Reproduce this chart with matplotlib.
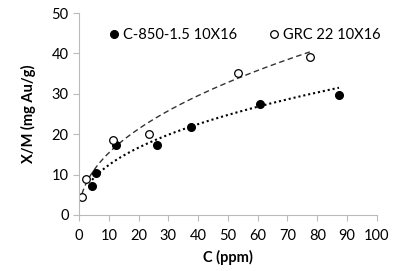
import numpy as np
import matplotlib
matplotlib.use("Agg")
import matplotlib.pyplot as plt

plt.rcParams['font.family'] = ['Lato', 'DejaVu Sans']

# C-850-1.5 10X16 (filled)
c850_x = [4.4, 5.8, 12.4, 26.2, 37.6, 60.7, 87.3]
c850_y = [7.2, 10.4, 17.3, 17.3, 21.8, 27.5, 29.7]
# GRC 22 10X16 (open)
grc_x = [1.0, 2.3, 11.3, 23.5, 53.4, 77.5]
grc_y = [4.5, 8.9, 18.5, 20.0, 35.1, 39.1]


def power_fit(x, y):
    b, loga = np.polyfit(np.log(x), np.log(y), 1)
    xs = np.linspace(min(x), max(x), 200)
    return xs, np.exp(loga) * xs ** b


fig = plt.figure(figsize=(3.95, 2.71), dpi=100)
ax = fig.add_axes([0.2, 0.207, 0.754, 0.745])

xs, ys = power_fit(c850_x, c850_y)
ax.plot(xs, ys, color='black', linestyle=(0, (1, 1.4)), linewidth=1.5)
xs, ys = power_fit(grc_x, grc_y)
ax.plot(xs, ys, color='#333333', linestyle=(0, (4, 2.5)), linewidth=1.0)

ax.plot(c850_x, c850_y, 'o', color='black', markersize=5.5, label='C-850-1.5 10X16')
ax.plot(grc_x, grc_y, 'o', markerfacecolor='white', markeredgecolor='black',
        markeredgewidth=0.9, markersize=5.5, label='GRC 22 10X16')

ax.set_xlim(0, 100)
ax.set_ylim(0, 50)
ax.set_xticks(np.arange(0, 101, 10))
ax.set_yticks(np.arange(0, 51, 10))
for s in ['top', 'right']:
    ax.spines[s].set_visible(False)
for s in ['left', 'bottom']:
    ax.spines[s].set_color('#bbbbbb')
ax.tick_params(colors='#bbbbbb', labelcolor='black', labelsize=10.5, length=4)
ax.tick_params(axis='x', pad=6)

ax.set_xlabel('C (ppm)', fontsize=10.5, fontweight='bold', labelpad=5)
ax.set_ylabel('X/M (mg Au/g)', fontsize=10.5, fontweight='bold', labelpad=11)

ax.legend(loc='upper left', bbox_to_anchor=(0.07, 0.955), ncol=2, frameon=False,
          fontsize=10.5, handletextpad=0.0, columnspacing=1.9, handlelength=1.2,
          borderaxespad=0)

fig.savefig('out.png', dpi=100)
